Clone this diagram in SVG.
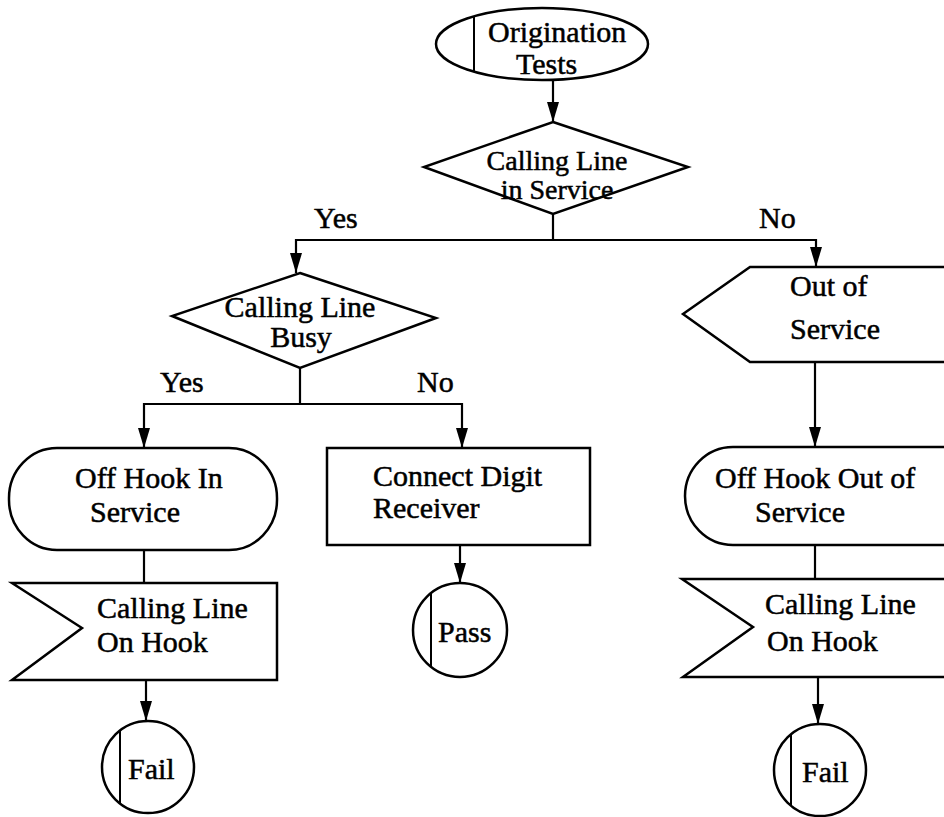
<svg xmlns="http://www.w3.org/2000/svg" width="944" height="817" viewBox="0 0 944 817">
  <style>
    .shape { fill: #fff; stroke: #000; stroke-width: 2.5; stroke-linejoin: miter; }
    .line { fill: none; stroke: #000; stroke-width: 2.2; }
    .chord { fill: none; stroke: #000; stroke-width: 2; }
    text { font-family: "Liberation Serif", "Times New Roman", serif; font-size: 30px; fill: #000; stroke: #000; stroke-width: 0.5; }
    .mid { text-anchor: middle; }
    .tight { font-size: 28px; }
  </style>
  <defs>
    <marker id="arrow" markerUnits="userSpaceOnUse" viewBox="0 0 20 12" refX="20" refY="6" markerWidth="20" markerHeight="12" orient="auto">
      <path d="M0,0 L20,6 L0,12 z" fill="#000"/>
    </marker>
  </defs>
  <rect width="944" height="817" fill="#fff"/>

  <!-- connectors -->
  <g id="connectors">
    <path class="line" d="M553,80 V122" marker-end="url(#arrow)"/>
    <path class="line" d="M553,214 V240 H296 V273" marker-end="url(#arrow)"/>
    <path class="line" d="M553,240 H816 V267" marker-end="url(#arrow)"/>
    <path class="line" d="M300,368 V404 H144 V448" marker-end="url(#arrow)"/>
    <path class="line" d="M300,404 H462 V448" marker-end="url(#arrow)"/>
    <path class="line" d="M144,550 V583"/>
    <path class="line" d="M146,680 V721" marker-end="url(#arrow)"/>
    <path class="line" d="M460,545 V583" marker-end="url(#arrow)"/>
    <path class="line" d="M815,363 V447" marker-end="url(#arrow)"/>
    <path class="line" d="M815,545 V579"/>
    <path class="line" d="M818,677 V724" marker-end="url(#arrow)"/>
    <text x="314" y="228">Yes</text>
    <text x="759" y="228">No</text>
    <text x="160" y="392">Yes</text>
    <text x="417" y="392">No</text>
  </g>

  <g id="origination-tests">
    <ellipse class="shape" cx="542" cy="44" rx="106" ry="36"/>
    <path class="chord" d="M474,17 V71"/>
    <text x="488" y="42">Origination</text>
    <text x="516" y="74">Tests</text>
  </g>

  <g id="line-in-service">
    <polygon class="shape" points="553,122 688,167 553,214 424,167"/>
    <text class="mid tight" x="557" y="170">Calling Line</text>
    <text class="mid tight" x="557" y="199">in Service</text>
  </g>

  <g id="line-busy">
    <polygon class="shape" points="300,273 436,318 300,368 172,316"/>
    <text class="mid" x="300" y="317">Calling Line</text>
    <text class="mid" x="301" y="347">Busy</text>
  </g>

  <g id="out-of-service">
    <polygon class="shape" points="683,314 750,267 960,267 960,362 750,362"/>
    <text x="790" y="296">Out of</text>
    <text x="790" y="339">Service</text>
  </g>

  <g id="off-hook-in-service">
    <rect class="shape" x="9" y="448" width="268" height="102" rx="48" ry="50"/>
    <text x="75" y="488">Off Hook In</text>
    <text x="90" y="522">Service</text>
  </g>

  <g id="connect-digit-receiver">
    <rect class="shape" x="327" y="448" width="263" height="97"/>
    <text x="373" y="486">Connect Digit</text>
    <text x="373" y="518">Receiver</text>
  </g>

  <g id="off-hook-out-of-service">
    <rect class="shape" x="685" y="447" width="320" height="98" rx="48" ry="49"/>
    <text x="715" y="488">Off Hook Out of</text>
    <text x="755" y="522">Service</text>
  </g>

  <g id="on-hook-left">
    <polygon class="shape" points="12,583 277,583 277,680 12,680 82,628"/>
    <text x="97" y="618">Calling Line</text>
    <text x="97" y="652">On Hook</text>
  </g>

  <g id="on-hook-right">
    <polygon class="shape" points="682,579 960,579 960,677 683,677 753,627"/>
    <text x="765" y="614">Calling Line</text>
    <text x="767" y="651">On Hook</text>
  </g>

  <g id="pass">
    <circle class="shape" cx="460" cy="630" r="47"/>
    <path class="chord" d="M431,593 V667"/>
    <text x="438" y="642">Pass</text>
  </g>

  <g id="fail-left">
    <circle class="shape" cx="148" cy="767" r="46"/>
    <path class="chord" d="M120,731 V803"/>
    <text x="128" y="779">Fail</text>
  </g>

  <g id="fail-right">
    <circle class="shape" cx="820" cy="770" r="46"/>
    <path class="chord" d="M791,735 V805"/>
    <text x="802" y="782">Fail</text>
  </g>
</svg>
